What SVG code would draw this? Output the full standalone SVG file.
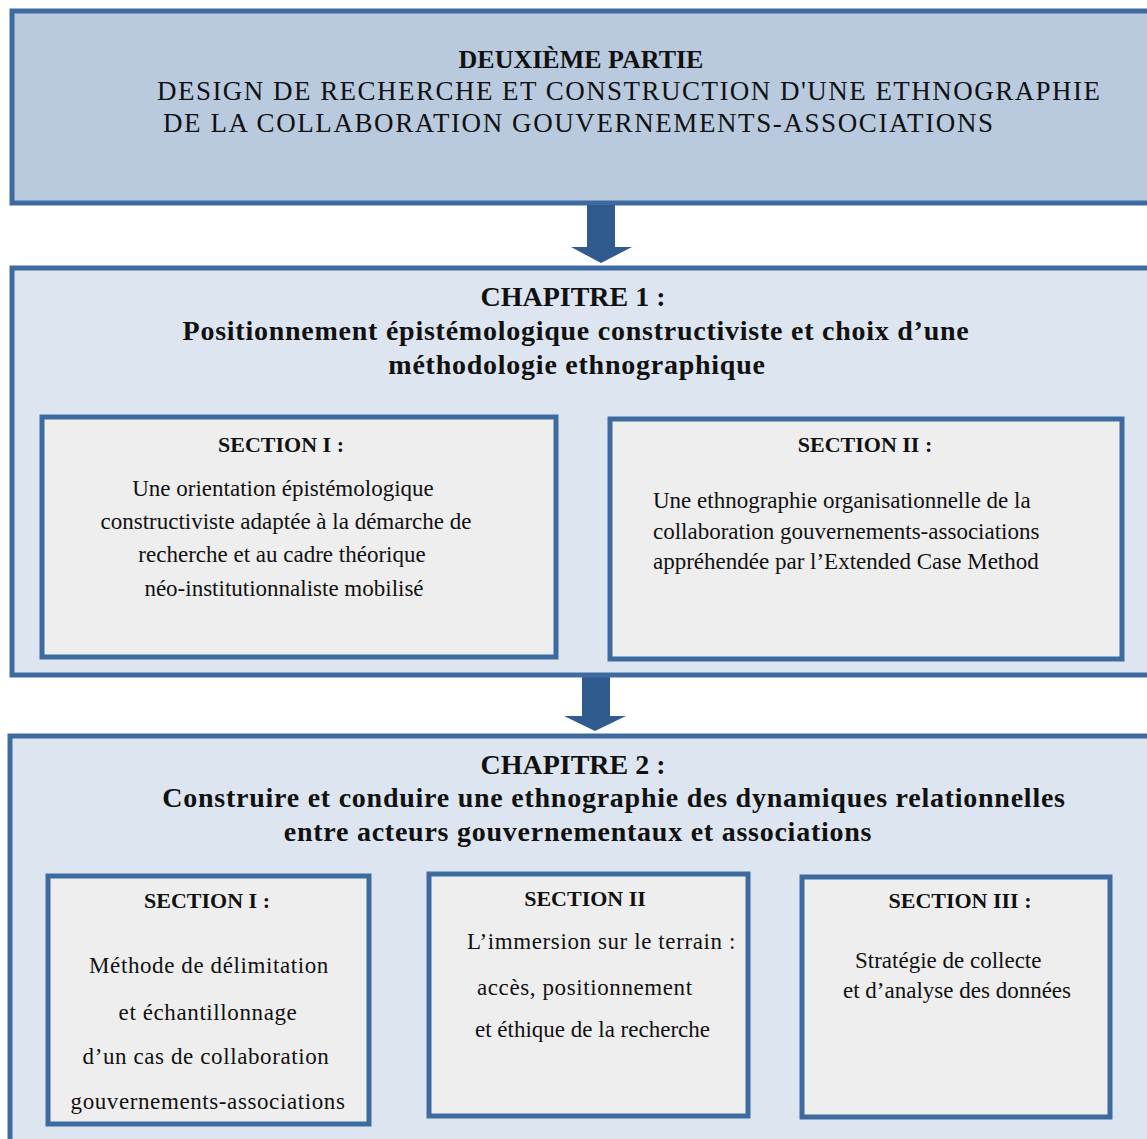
<svg xmlns="http://www.w3.org/2000/svg" width="1147" height="1139" viewBox="0 0 1147 1139">
<style>
.box{stroke:#3e6b9f;stroke-width:5}
.top{fill:#b9cadf}
.chap{fill:#dde6f0}
.sec{fill:#eeeeee}
.arrow{fill:#2f5b8e}
text{font-family:"Liberation Serif","Times New Roman",serif;fill:#111}
.h{font-weight:bold}
.c{text-anchor:middle}
.ls{letter-spacing:0.75px}
.ls2{letter-spacing:0.6px}
.t27{font-size:27px}
.t26{font-size:26px}
.t28{font-size:28px}
.t23{font-size:22px}
.t24{font-size:23px}
</style>
<rect width="1147" height="1139" fill="#ffffff"/>
<g id="partie">
<rect class="box top" x="12" y="11" width="1145" height="192"/>
<text class="h c t26" x="581" y="68">DEUXIÈME PARTIE</text>
<text class="t27" x="157" y="100" textLength="943" lengthAdjust="spacing">DESIGN DE RECHERCHE ET CONSTRUCTION D'UNE ETHNOGRAPHIE</text>
<text class="t27" x="163" y="132" textLength="830" lengthAdjust="spacing">DE LA COLLABORATION GOUVERNEMENTS-ASSOCIATIONS</text>
</g>
<g id="connectors">
<polygon class="arrow" points="587,205 615,205 615,247 632,247 601,263 571,247 587,247"/>
<polygon class="arrow" points="582,677 610,677 610,716 626,716 595,731 564,716 582,716"/>
</g>
<g id="chapitre1">
<rect class="box chap" x="12" y="268" width="1145" height="407"/>
<text class="h c t28" x="573" y="306">CHAPITRE 1 :</text>
<text class="h c t28 ls" x="576" y="340">Positionnement épistémologique constructiviste et choix d’une</text>
<text class="h c t28 ls" x="577" y="374">méthodologie ethnographique</text>
</g>
<g id="ch1-section1">
<rect class="box sec" x="42" y="417" width="514" height="240"/>
<text class="h c t23" x="281" y="452">SECTION I :</text>
<text class="c t24" x="283" y="496">Une orientation épistémologique</text>
<text class="c t24" x="286" y="529">constructiviste adaptée à la démarche de</text>
<text class="c t24" x="282" y="562">recherche et au cadre théorique</text>
<text class="c t24" x="284" y="596">néo-institutionnaliste mobilisé</text>
</g>
<g id="ch1-section2">
<rect class="box sec" x="610" y="419" width="512" height="240"/>
<text class="h c t23" x="865" y="452">SECTION II :</text>
<text class="t24" x="653" y="508">Une ethnographie organisationnelle de la</text>
<text class="t24" x="653" y="539">collaboration gouvernements-associations</text>
<text class="t24" x="653" y="569">appréhendée par l’Extended Case Method</text>
</g>
<g id="chapitre2">
<rect class="box chap" x="10" y="736" width="1147" height="420"/>
<text class="h c t28" x="573" y="774">CHAPITRE 2 :</text>
<text class="h c t28 ls" x="614" y="807">Construire et conduire une ethnographie des dynamiques relationnelles</text>
<text class="h c t28 ls" x="578" y="841">entre acteurs gouvernementaux et associations</text>
</g>
<g id="ch2-section1">
<rect class="box sec" x="48" y="876" width="321" height="248"/>
<text class="h c t23" x="207" y="908">SECTION I :</text>
<text class="c t24 ls2" x="209" y="973">Méthode de délimitation</text>
<text class="c t24 ls2" x="208" y="1020">et échantillonnage</text>
<text class="c t24 ls2" x="206" y="1064">d’un cas de collaboration</text>
<text class="c t24 ls2" x="208" y="1109">gouvernements-associations</text>
</g>
<g id="ch2-section2">
<rect class="box sec" x="429" y="874" width="319" height="242"/>
<text class="h c t23" x="585" y="906">SECTION II</text>
<text class="t24 ls2" x="467" y="949">L’immersion sur le terrain :</text>
<text class="t24 ls2" x="477" y="995">accès, positionnement</text>
<text class="t24" x="475" y="1037">et éthique de la recherche</text>
</g>
<g id="ch2-section3">
<rect class="box sec" x="802" y="877" width="308" height="240"/>
<text class="h c t23" x="960" y="908">SECTION III :</text>
<text class="t24" x="855" y="968">Stratégie de collecte</text>
<text class="t24" x="843" y="998">et d’analyse des données</text>
</g>
</svg>
